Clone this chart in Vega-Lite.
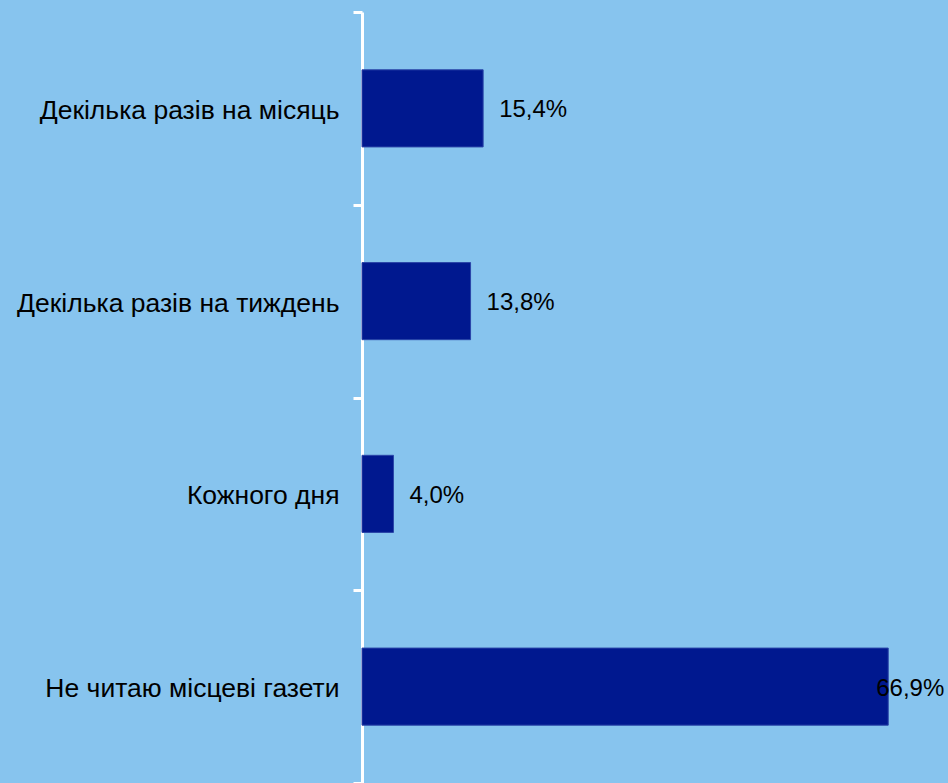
{
  "$schema": "https://vega.github.io/schema/vega-lite/v6.json",
  "autosize": {"type": "none"},
  "width": 586,
  "height": 771,
  "padding": {"left": 362, "top": 12, "right": 0, "bottom": 0},
  "background": "#87C4EE",
  "config": {
    "view": {"stroke": null},
    "font": "Liberation Sans"
  },
  "data": {
    "values": [
      {"category": "Декілька разів на місяць", "value": 15.4, "label": "15,4%"},
      {"category": "Декілька разів на тиждень", "value": 13.8, "label": "13,8%"},
      {"category": "Кожного дня", "value": 4.0, "label": "4,0%"},
      {"category": "Не читаю місцеві газети", "value": 66.9, "label": "66,9%"}
    ]
  },
  "encoding": {
    "y": {
      "field": "category",
      "type": "nominal",
      "sort": null,
      "scale": {"paddingInner": 0, "paddingOuter": 0},
      "axis": {
        "title": null,
        "labelFontSize": 26.5,
        "labelColor": "#000000",
        "labelPadding": 14,
        "labelOffset": 2,
        "labelFont": "Liberation Sans",
        "labelLimit": 400,
        "tickSize": 9,
        "tickWidth": 3,
        "tickColor": "#FFFFFF",
        "tickBand": "extent",
        "domainColor": "#FFFFFF",
        "domainWidth": 3,
        "grid": false
      }
    },
    "x": {
      "field": "value",
      "type": "quantitative",
      "scale": {"domain": [0, 74.5], "nice": false, "zero": true},
      "axis": null
    }
  },
  "layer": [
    {
      "mark": {"type": "bar", "color": "#00188F", "stroke": "#2A45A8", "strokeWidth": 1, "height": {"band": 0.4}}
    },
    {
      "transform": [{"filter": "datum.value < 50"}],
      "mark": {"type": "text", "align": "left", "baseline": "middle", "dx": 16, "dy": 2, "fontSize": 24, "color": "#000000"},
      "encoding": {"text": {"field": "label"}}
    },
    {
      "transform": [{"filter": "datum.value >= 50"}],
      "mark": {"type": "text", "align": "left", "baseline": "middle", "dx": -12, "dy": 2, "fontSize": 24, "color": "#000000"},
      "encoding": {"text": {"field": "label"}}
    }
  ]
}
